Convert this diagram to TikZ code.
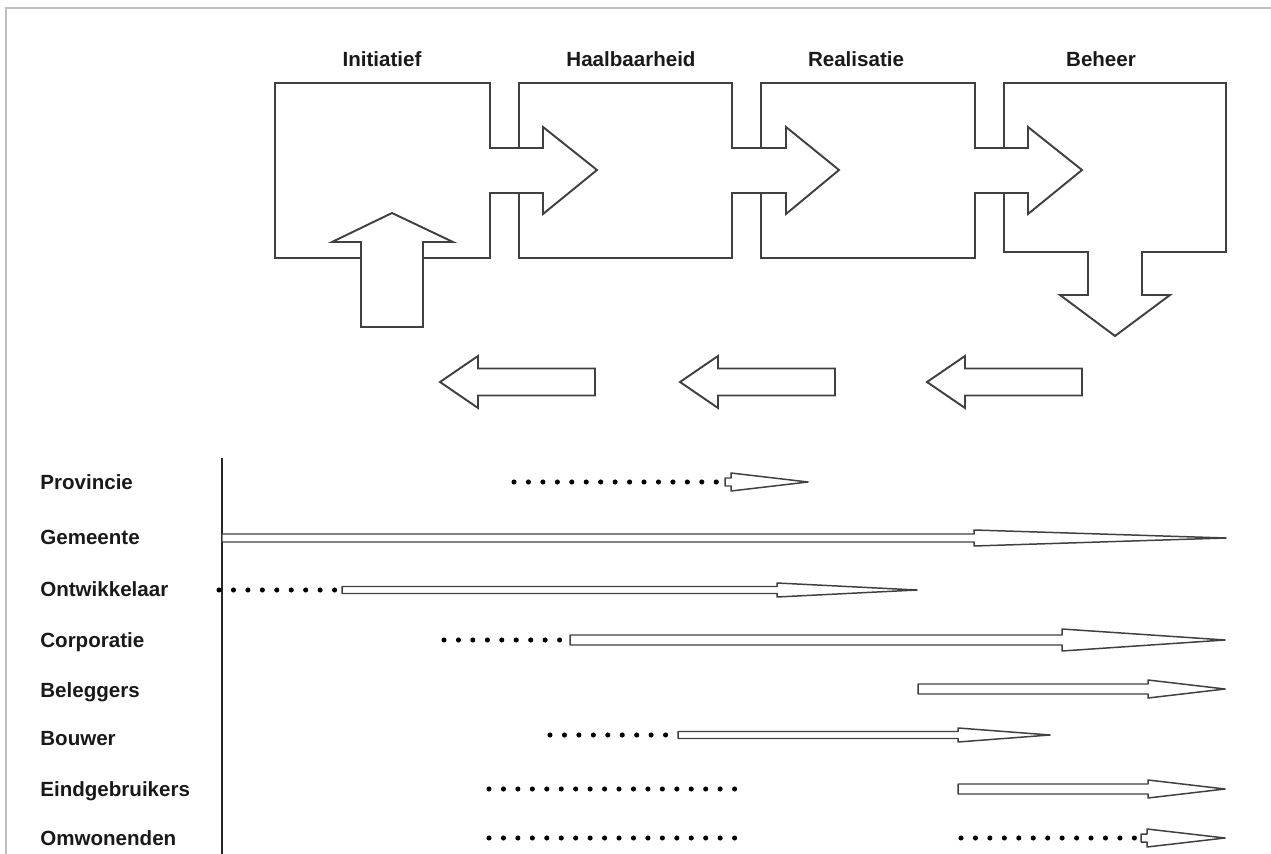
\documentclass[tikz,border=0pt]{standalone}
\usepackage{fontspec}
\setmainfont{Liberation Sans}
% y, start, head base, tip, shaft half width, head half width
\newcommand{\rowarrow}[6]{%
  \draw[hollow] (#2,#1-#5) -- (#3,#1-#5) -- (#3,#1-#6) -- (#4,#1) -- (#3,#1+#6) -- (#3,#1+#5) -- (#2,#1+#5) -- cycle;}
\begin{document}
\begin{tikzpicture}[x=0.02cm, y=-0.02cm,
    stage/.style={draw=black!75, line width=1.1pt, line join=miter},
    block/.style={stage, fill=white},
    title/.style={font=\fontsize{11.7}{14}\selectfont\bfseries, text=black!90, inner sep=0pt, anchor=base},
    role/.style={title, anchor=base west},
    dotline/.style={line width=2.9pt, line cap=round, dash pattern=on 0pt off 0.289cm},
    hollow/.style={draw=black!75, line width=0.85pt, fill=white, line join=round}
  ]
  \useasboundingbox (0,0) rectangle (1271,854);
  \draw[black!25, line width=0.6pt] (1271,8) -- (6,8) -- (6,854);

  \node[title] (initiatief) at (382,66.5) {Initiatief};
  \node[title] (haalbaarheid) at (631,66.5) {Haalbaarheid};
  \node[title] (realisatie) at (856,66.5) {Realisatie};
  \node[title] (beheer) at (1101,66.5) {Beheer};

  \draw[stage] (490,193) -- (490,258) -- (275,258) -- (275,83) -- (490,83) -- (490,148)
    -- (543,148) -- (543,127) -- (597,170) -- (543,214) -- (543,193) -- cycle;
  \draw[block] (361,327) -- (361,242) -- (332,242) -- (392,213) -- (453,242) -- (423,242) -- (423,327) -- cycle;
  \foreach \l/\r/\b/\t in {519/732/786/839, 761/975/1028/1082}
    \draw[stage] (\l,193) -- (\l,258) -- (\r,258) -- (\r,193) -- (\b,193) -- (\b,214) -- (\t,170)
      -- (\b,127) -- (\b,148) -- (\r,148) -- (\r,83) -- (\l,83) -- (\l,148);
  \draw[stage] (1004,148) -- (1004,83) -- (1226,83) -- (1226,252) -- (1142,252) -- (1142,295) -- (1170,295)
    -- (1115,336) -- (1060,295) -- (1088,295) -- (1088,252) -- (1004,252) -- (1004,193);

  \foreach \t in {440, 680, 927}
    \draw[stage] (\t,382) -- (\t+38,356) -- (\t+38,368.5) -- (\t+155,368.5) -- (\t+155,395.5)
      -- (\t+38,395.5) -- (\t+38,408) -- cycle;

  \node[role] (provincie) at (40,489.5) {Provincie};
  \node[role] (gemeente) at (40,544.5) {Gemeente};
  \node[role] (ontwikkelaar) at (40,596.5) {Ontwikkelaar};
  \node[role] (corporatie) at (40,647.5) {Corporatie};
  \node[role] (beleggers) at (40,697.5) {Beleggers};
  \node[role] (bouwer) at (40,745.5) {Bouwer};
  \node[role] (eindgebruikers) at (40,796.5) {Eindgebruikers};
  \node[role] (omwonenden) at (40,845.5) {Omwonenden};

  \draw[black!85, line width=0.8pt] (222,458) -- (222,854);

  \draw[dotline] (514,482) -- (717,482);
  \rowarrow{482}{725}{731}{808}{4}{9}
  \rowarrow{538}{222}{974}{1226}{4}{8}
  \draw[dotline] (219,590) -- (335.5,590);
  \rowarrow{590}{342}{777}{917}{3.5}{7}
  \draw[dotline] (444,640) -- (560.5,640);
  \rowarrow{640}{570}{1062}{1225}{5}{11}
  \rowarrow{689}{918}{1148}{1225}{5}{9}
  \draw[dotline] (550,735) -- (666.5,735);
  \rowarrow{735}{678}{958}{1050}{3.5}{7}
  \draw[dotline] (489,789) -- (735,789);
  \rowarrow{789}{958}{1148}{1225}{5}{9}
  \draw[dotline] (489,838) -- (735,838);
  \draw[dotline] (961,838) -- (1135,838);
  \rowarrow{838}{1141}{1147}{1225}{4}{9}
\end{tikzpicture}
\end{document}
